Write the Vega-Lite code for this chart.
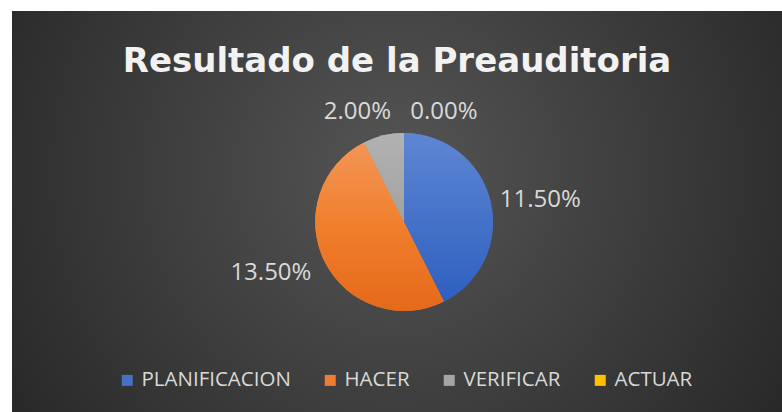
{
  "$schema": "https://vega.github.io/schema/vega-lite/v6.json",
  "width": 782,
  "height": 412,
  "autosize": {"type": "fit", "contains": "padding"},
  "padding": {"left": 12, "top": 11, "right": 0, "bottom": 0},
  "background": "#ffffff",
  "title": {
    "text": "Resultado de la Preauditoria",
    "font": "DejaVu Sans",
    "fontSize": 34,
    "fontWeight": "bold",
    "color": "#f2f2f2",
    "anchor": "middle",
    "baseline": "alphabetic",
    "offset": -95
  },
  "config": {"view": {"stroke": null}},
  "datasets": {
    "resultado": [
      {"Categoria": "PLANIFICACION", "Valor": 0.115, "orden": 1},
      {"Categoria": "HACER", "Valor": 0.135, "orden": 2},
      {"Categoria": "VERIFICAR", "Valor": 0.02, "orden": 3},
      {"Categoria": "ACTUAR", "Valor": 0.0, "orden": 4}
    ]
  },
  "layer": [
    {
      "data": {"values": [{"fondo": 1}]},
      "mark": {
        "type": "rect",
        "color": {
          "gradient": "radial",
          "x1": 0.5, "y1": 0.45, "r1": 0,
          "x2": 0.5, "y2": 0.45, "r2": 0.62,
          "stops": [
            {"offset": 0, "color": "#555555"},
            {"offset": 1, "color": "#262626"}
          ]
        }
      },
      "encoding": {}
    },
    {
      "data": {"name": "resultado"},
      "mark": {"type": "arc", "outerRadius": 89, "xOffset": 7, "yOffset": 10.5},
      "encoding": {
        "theta": {"field": "Valor", "type": "quantitative", "stack": true},
        "order": {"field": "orden", "type": "quantitative"},
        "color": {
          "field": "Categoria",
          "type": "nominal",
          "scale": {
            "domain": ["PLANIFICACION", "HACER", "VERIFICAR", "ACTUAR"],
            "range": ["#4472c4", "#ed7d31", "#a5a5a5", "#ffc000"]
          },
          "sort": ["PLANIFICACION", "HACER", "VERIFICAR", "ACTUAR"],
          "legend": {
            "orient": "none",
            "legendX": 105,
            "legendY": 359,
            "direction": "horizontal",
            "columns": 4,
            "title": null,
            "labelFont": "Open Sans",
            "labelFontSize": 20.5,
            "labelColor": "#d9d9d9",
            "symbolType": "square",
            "symbolSize": 121,
            "symbolStrokeWidth": 0,
            "columnPadding": 29,
            "labelOffset": 4
          }
        }
      }
    },
    {
      "data": {"name": "resultado"},
      "mark": {
        "type": "arc", "outerRadius": 89, "xOffset": 7, "yOffset": 10.5,
        "color": {"gradient": "linear", "x1": 0, "y1": 0, "x2": 0, "y2": 1,
          "stops": [{"offset": 0, "color": "#5e86d2"}, {"offset": 1, "color": "#2e60c0"}]}
      },
      "encoding": {
        "theta": {"field": "Valor", "type": "quantitative", "stack": true},
        "order": {"field": "orden", "type": "quantitative"},
        "opacity": {"condition": {"test": "datum.Categoria === 'PLANIFICACION'", "value": 1}, "value": 0}
      }
    },
    {
      "data": {"name": "resultado"},
      "mark": {
        "type": "arc", "outerRadius": 89, "xOffset": 7, "yOffset": 10.5,
        "color": {"gradient": "linear", "x1": 0, "y1": 0, "x2": 0, "y2": 1,
          "stops": [{"offset": 0, "color": "#f39558"}, {"offset": 0.5, "color": "#f07f2c"}, {"offset": 1, "color": "#e5691a"}]}
      },
      "encoding": {
        "theta": {"field": "Valor", "type": "quantitative", "stack": true},
        "order": {"field": "orden", "type": "quantitative"},
        "opacity": {"condition": {"test": "datum.Categoria === 'HACER'", "value": 1}, "value": 0}
      }
    },
    {
      "data": {"name": "resultado"},
      "mark": {
        "type": "arc", "outerRadius": 89, "xOffset": 7, "yOffset": 10.5,
        "color": {"gradient": "linear", "x1": 0, "y1": 0, "x2": 0, "y2": 1,
          "stops": [{"offset": 0, "color": "#b2b2b2"}, {"offset": 1, "color": "#a2a2a2"}]}
      },
      "encoding": {
        "theta": {"field": "Valor", "type": "quantitative", "stack": true},
        "order": {"field": "orden", "type": "quantitative"},
        "opacity": {"condition": {"test": "datum.Categoria === 'VERIFICAR'", "value": 1}, "value": 0}
      }
    },
    {
      "data": {"name": "resultado"},
      "mark": {"type": "text", "radius": 140, "xOffset": 7, "yOffset": 20.5, "font": "Open Sans", "fontSize": 24, "color": "#d9d9d9", "baseline": "middle", "align": "center"},
      "encoding": {
        "theta": {"field": "Valor", "type": "quantitative", "stack": true},
        "order": {"field": "orden", "type": "quantitative"},
        "text": {"condition": {"test": "datum.Categoria === 'PLANIFICACION'", "field": "Valor", "format": ".2%"}, "value": ""}
      }
    },
    {
      "data": {"name": "resultado"},
      "mark": {"type": "text", "radius": 140, "xOffset": -1, "yOffset": -1.5, "font": "Open Sans", "fontSize": 24, "color": "#d9d9d9", "baseline": "middle", "align": "center"},
      "encoding": {
        "theta": {"field": "Valor", "type": "quantitative", "stack": true},
        "order": {"field": "orden", "type": "quantitative"},
        "text": {"condition": {"test": "datum.Categoria === 'HACER'", "field": "Valor", "format": ".2%"}, "value": ""}
      }
    },
    {
      "data": {"name": "resultado"},
      "mark": {"type": "text", "radius": 120, "xOffset": -12, "yOffset": 17.5, "font": "Open Sans", "fontSize": 24, "color": "#d9d9d9", "baseline": "middle", "align": "center"},
      "encoding": {
        "theta": {"field": "Valor", "type": "quantitative", "stack": true},
        "order": {"field": "orden", "type": "quantitative"},
        "text": {"condition": {"test": "datum.Categoria === 'VERIFICAR'", "field": "Valor", "format": ".2%"}, "value": ""}
      }
    },
    {
      "data": {"name": "resultado"},
      "mark": {"type": "text", "radius": 120, "xOffset": 47, "yOffset": 20.5, "font": "Open Sans", "fontSize": 24, "color": "#d9d9d9", "baseline": "middle", "align": "center"},
      "encoding": {
        "theta": {"field": "Valor", "type": "quantitative", "stack": true},
        "order": {"field": "orden", "type": "quantitative"},
        "text": {"condition": {"test": "datum.Categoria === 'ACTUAR'", "field": "Valor", "format": ".2%"}, "value": ""}
      }
    }
  ]
}
